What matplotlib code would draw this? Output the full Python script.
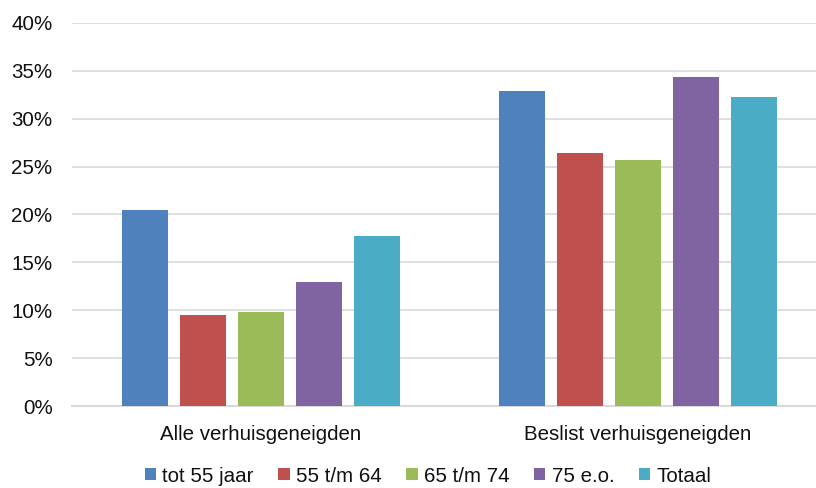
import numpy as np
import matplotlib
matplotlib.use('Agg')
import matplotlib.pyplot as plt
from matplotlib.ticker import FuncFormatter

categories = ['Alle verhuisgeneigden', 'Beslist verhuisgeneigden']
series = ['tot 55 jaar', '55 t/m 64', '65 t/m 74', '75 e.o.', 'Totaal']
values = [
    [20.5, 32.9],   # tot 55 jaar
    [9.5, 26.4],    # 55 t/m 64
    [9.8, 25.7],    # 65 t/m 74
    [13.0, 34.4],   # 75 e.o.
    [17.8, 32.3],   # Totaal
]
colors = ['#4F81BD', '#C0504D', '#9BBB59', '#8064A2', '#4BACC6']

plt.rcParams['font.family'] = ['Liberation Sans', 'DejaVu Sans']

fig = plt.figure(figsize=(8.16, 4.88), dpi=100)
ax = fig.add_axes([72/816, 1-406/488, (816-72)/816, (406-23)/488])

x = np.arange(len(categories))
w = 0.122
step = 0.1538
for i, (name, vals) in enumerate(zip(series, values)):
    ax.bar(x + (i-2)*step, vals, width=w, color=colors[i], label=name, zorder=3)

ax.set_xlim(-0.5, 1.472)
ax.set_ylim(0, 40)
ax.set_yticks(np.arange(0, 41, 5))
ax.yaxis.set_major_formatter(FuncFormatter(lambda v, p: '%d%%' % v))
ax.set_xticks(x)
ax.set_xticklabels(categories)
ax.grid(axis='y', color='#D9D9D9', linewidth=1.2, zorder=0)
for s in ['top', 'right', 'left']:
    ax.spines[s].set_visible(False)
ax.spines['bottom'].set_color('#D9D9D9')
ax.spines['bottom'].set_linewidth(1.5)
ax.tick_params(axis='both', length=0, labelsize=14.8, colors='#111111')
ax.tick_params(axis='y', pad=14)
ax.tick_params(axis='x', pad=14)

fig.legend(loc='center', bbox_to_anchor=(428/816, 1-476/488), ncol=5, frameon=False,
           fontsize=14.8, handlelength=0.55, handleheight=0.55, handletextpad=0.3,
           columnspacing=1.2, borderpad=0, labelcolor='#111111')

plt.savefig('out.png', dpi=100)
